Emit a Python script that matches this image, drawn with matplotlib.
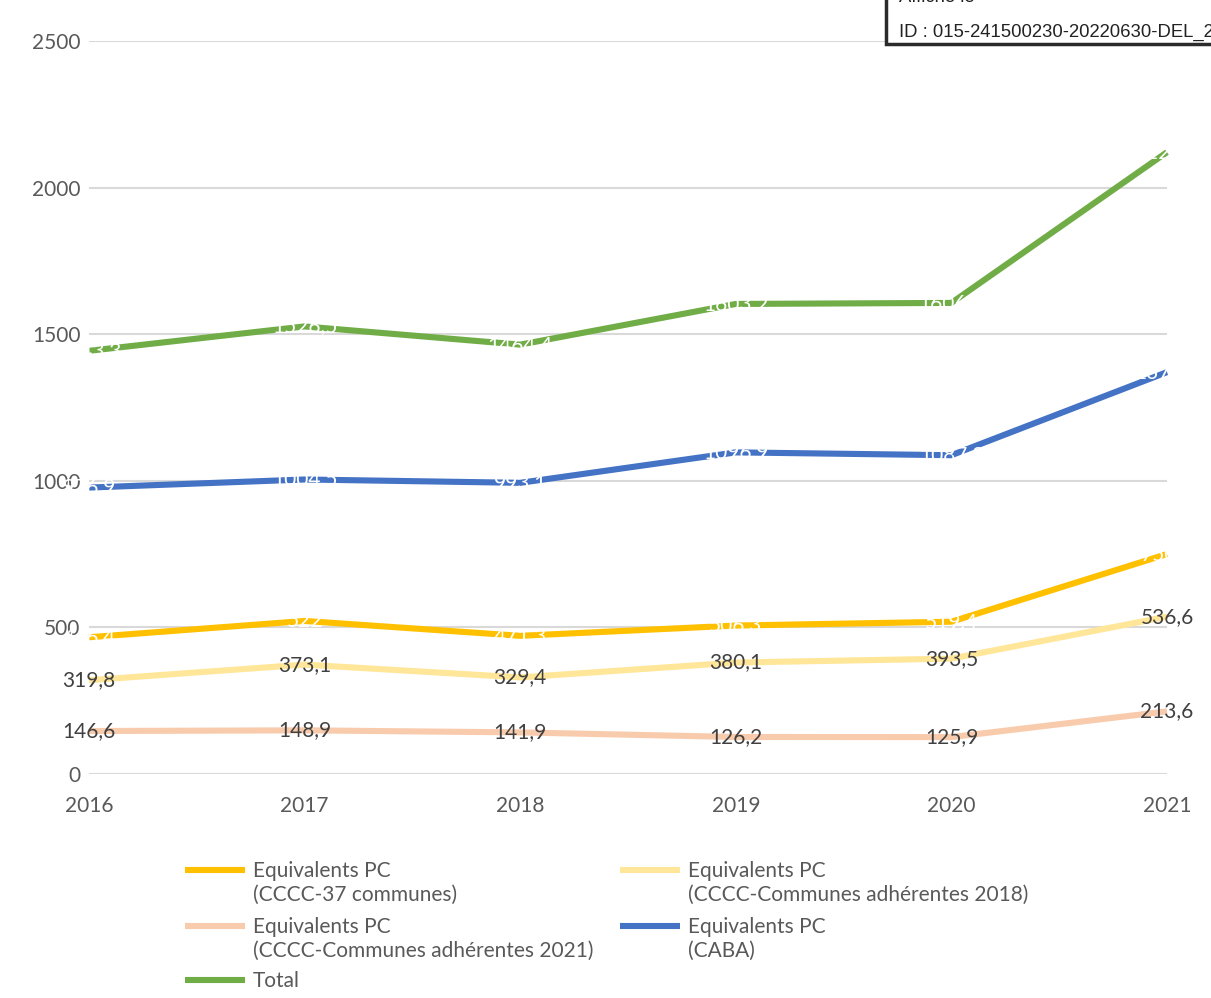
import matplotlib
matplotlib.use("Agg")
import matplotlib.pyplot as plt
from matplotlib.lines import Line2D
from matplotlib.patches import Rectangle

years = ["2016", "2017", "2018", "2019", "2020", "2021"]
pc_37 = [466.4, 522.0, 471.3, 506.3, 519.4, 750.2]
pc_2018 = [319.8, 373.1, 329.4, 380.1, 393.5, 536.6]
pc_2021 = [146.6, 148.9, 141.9, 126.2, 125.9, 213.6]
pc_caba = [976.9, 1004.5, 993.1, 1096.9, 1087.3, 1370.6]
total = [1443.3, 1526.5, 1464.4, 1603.2, 1606.7, 2120.8]

labels = ["Equivalents PC\n(CCCC-37 communes)",
          "Equivalents PC\n(CCCC-Communes adhérentes 2018)",
          "Equivalents PC\n(CCCC-Communes adhérentes 2021)",
          "Equivalents PC\n(CABA)",
          "Total"]
colors = ["#FFC000", "#FFE699", "#F8CBAD", "#4472C4", "#70AD47"]
label_colors = ["white", "#404040", "#404040", "white", "white"]
series = [pc_37, pc_2018, pc_2021, pc_caba, total]

FONT = "Lato"
GRAY = "#595959"

fig = plt.figure(figsize=(12.11, 9.98), dpi=100)
ax = fig.add_axes([89 / 1211, 1 - 774 / 998, (1167 - 89) / 1211, (774 - 41) / 998])

x = list(range(len(years)))
for vals, col in zip(series, colors):
    ax.plot(x, vals, color=col, lw=4.4, solid_capstyle="butt", clip_on=False, zorder=3)

def fmt(v):
    if abs(v - round(v)) < 1e-9:
        return f"{int(round(v))}"
    return f"{v:.1f}".replace(".", ",")

for vals, lc in zip(series, label_colors):
    for xi, v in zip(x, vals):
        ax.text(xi, v, fmt(v), ha="center", va="center", color=lc,
                fontsize=15, family=FONT, zorder=5, clip_on=False)

ax.set_xlim(0, len(years) - 1)
ax.set_ylim(0, 2500)
ax.set_yticks([0, 500, 1000, 1500, 2000, 2500])
ax.set_xticks(x)
ax.set_xticklabels(years)
ax.grid(axis="y", color="#D9D9D9", lw=1.5, zorder=0)
ax.set_axisbelow(True)
for s in ax.spines.values():
    s.set_visible(False)
ax.tick_params(axis="both", length=0, labelsize=15, labelcolor=GRAY)
ax.tick_params(axis="y", pad=6)
ax.tick_params(axis="x", pad=16)
for t in ax.get_xticklabels() + ax.get_yticklabels():
    t.set_family(FONT)

# Legend (manual, Excel-like)
W, H = 1211, 998
def fx(px):
    return px / W
def fy(py):
    return 1 - py / H

entries = [
    (185, 870, 0),
    (620, 870, 1),
    (185, 926, 2),
    (620, 926, 3),
    (185, 980, 4),
]
for px, py, i in entries:
    fig.add_artist(Line2D([fx(px), fx(px + 60)], [fy(py), fy(py)],
                          color=colors[i], lw=4.4, solid_capstyle="butt",
                          transform=fig.transFigure))
    fig.text(fx(px + 68), fy(py - 9), labels[i], ha="left", va="top",
             fontsize=15, family=FONT, color=GRAY, linespacing=1.25)

# Stamp box at top right
fig.add_artist(Rectangle((fx(886), fy(44)), fx(1211 + 20) - fx(886), fy(-20) - fy(44),
                         facecolor="white", edgecolor="#2b2b2b", lw=2.5,
                         transform=fig.transFigure, clip_on=False, zorder=10))
fig.text(fx(899), fy(-3), "Affiché le", ha="left", va="center", fontsize=13.3,
         family="Liberation Sans", color="#222222", zorder=11)
fig.text(fx(899), fy(32), "ID : 015-241500230-20220630-DEL_2", ha="left", va="center",
         fontsize=13.3, family="Liberation Sans", color="#222222", zorder=11)

fig.savefig("out.png", dpi=100)
